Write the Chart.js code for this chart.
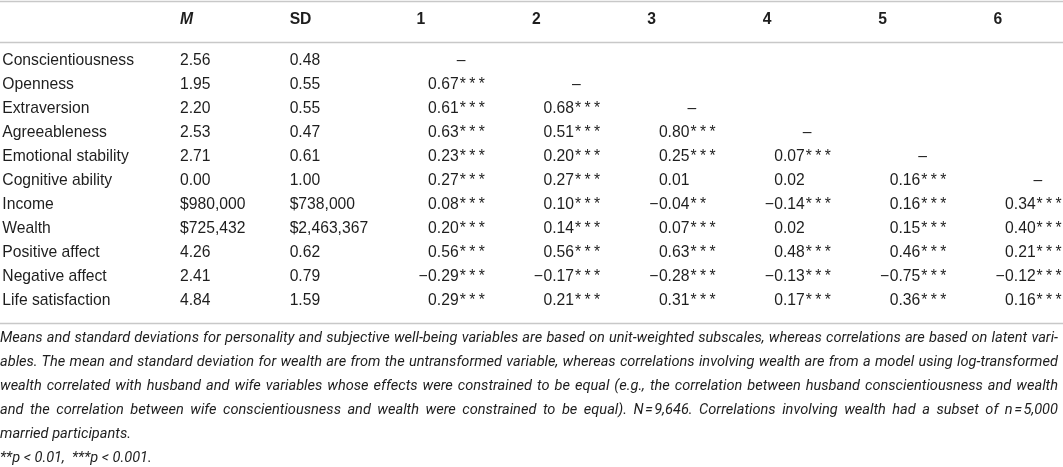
<!DOCTYPE html>
<html>
<head>
<meta charset="utf-8">
<script src="https://cdn.jsdelivr.net/npm/chart.js@4.4.1/dist/chart.umd.min.js"></script>
<style>
  html, body { margin: 0; padding: 0; background: #fff; }
  body { width: 1063px; height: 467px; position: relative; overflow: hidden;
         font-family: "Liberation Sans", Arial, sans-serif; color: #1e1e1e; }
  #table-wrap { position: absolute; left: 0; top: 0; width: 1063px; height: 326px; }
  #notes { position: absolute; left: 0; top: 325px; width: 1058px;
           font-family: Roboto, "Liberation Sans", sans-serif;
           font-style: italic; font-size: 14.5px; line-height: 24px; }
  #notes div { white-space: nowrap; }
  #notes .j { text-align: justify; text-align-last: justify; }
</style>
</head>
<body>
<div id="table-wrap"><canvas id="tbl"></canvas></div>
<div id="notes">
  <div class="j">Means and standard deviations for personality and subjective well-being variables are based on unit-weighted subscales, whereas correlations are based on latent vari-</div>
  <div class="j">ables. The mean and standard deviation for wealth are from the untransformed variable, whereas correlations involving wealth are from a model using log-transformed</div>
  <div class="j">wealth correlated with husband and wife variables whose effects were constrained to be equal (e.g., the correlation between husband conscientiousness and wealth</div>
  <div class="j">and the correlation between wife conscientiousness and wealth were constrained to be equal). N&#8202;=&#8202;9,646. Correlations involving wealth had a subset of n&#8202;=&#8202;5,000</div>
  <div>married participants.</div>
  <div>**p &lt; 0.01, &nbsp;***p &lt; 0.001.</div>
</div>
<script>
// ROWS / COLUMNS
const rowLabels = ['Conscientiousness', 'Openness', 'Extraversion', 'Agreeableness', 'Emotional stability',
  'Cognitive ability', 'Income', 'Wealth', 'Positive affect', 'Negative affect', 'Life satisfaction'];
const columnHeads = ['M', 'SD', '1', '2', '3', '4', '5', '6'];
const moneyRows = ['Income', 'Wealth'];

const meanValues = [2.56, 1.95, 2.20, 2.53, 2.71, 0.00, 980000, 725432, 4.26, 2.41, 4.84];
const sdValues = [0.48, 0.55, 0.55, 0.47, 0.61, 1.00, 738000, 2463367, 0.62, 0.79, 1.59];

// correlations under the diagonal, column k starts at row k
const corr1 = [0.67, 0.61, 0.63, 0.23, 0.27, 0.08, 0.20, 0.56, -0.29, 0.29];
const corr2 = [0.68, 0.51, 0.20, 0.27, 0.10, 0.14, 0.56, -0.17, 0.21];
const corr3 = [0.80, 0.25, 0.01, -0.04, 0.07, 0.63, -0.28, 0.31];
const corr4 = [0.07, 0.02, -0.14, 0.02, 0.48, -0.13, 0.17];
const corr5 = [0.16, 0.16, 0.15, 0.46, -0.75, 0.36];
const corr6 = [0.34, 0.40, 0.21, -0.12, 0.16];

// stars per cell (2 = p < .01, 3 = p < .001)
const stars1 = [3, 3, 3, 3, 3, 3, 3, 3, 3, 3];
const stars2 = [3, 3, 3, 3, 3, 3, 3, 3, 3];
const stars3 = [3, 3, 0, 2, 3, 3, 3, 3];
const stars4 = [3, 0, 3, 0, 3, 3, 3];
const stars5 = [3, 3, 3, 3, 3, 3];
const stars6 = [3, 3, 3, 3, 3];

const corrCols = [corr1, corr2, corr3, corr4, corr5, corr6];
const starCols = [stars1, stars2, stars3, stars4, stars5, stars6];

// LAYOUT (x scale: 1 unit = width of a correlation column, y scale: 1 unit = one row)
const colSlot = [0, 0.95, 2.15, 3.15, 4.15, 5.15, 6.15, 7.15];
const labelSlot = -1.54;
const headShift = -0.1;
const dashShift = 0.285;
const headerRow = -1.71;
const ruleRows = [-2.5, -0.79, 10.92];

const FONT = '"Liberation Sans", Arial, sans-serif';
const NOTE_FONT = 'Roboto, "Liberation Sans", sans-serif';
const SIZE = '15.7px ';
const INK = '#1e1e1e';

function fmt(v) {
  const s = Math.abs(v).toFixed(2);
  return v < 0 ? '\u2212' + s : s;
}
function money(v) {
  return '$' + v.toLocaleString('en-US');
}

// build the cell points
const headerPts = columnHeads.map((h, i) => ({
  x: colSlot[i] + (i > 1 ? headShift : 0), y: headerRow, txt: h, kind: 'head', italic: h === 'M'
}));
const labelPts = rowLabels.map((r, i) => ({ x: labelSlot, y: i, txt: r, kind: 'plain' }));
const meanPts = meanValues.map((v, i) => ({
  x: colSlot[0], y: i, txt: moneyRows.includes(rowLabels[i]) ? money(v) : v.toFixed(2), kind: 'plain'
}));
const sdPts = sdValues.map((v, i) => ({
  x: colSlot[1], y: i, txt: moneyRows.includes(rowLabels[i]) ? money(v) : v.toFixed(2), kind: 'plain'
}));
const corrPts = [];
corrCols.forEach((col, c) => {
  corrPts.push({ x: colSlot[c + 2] + dashShift, y: c, txt: '\u2013', kind: 'dash' });
  col.forEach((v, j) => {
    corrPts.push({ x: colSlot[c + 2], y: c + 1 + j, txt: fmt(v), stars: starCols[c][j], kind: 'corr' });
  });
});

const cellText = {
  id: 'cellText',
  beforeDatasetsDraw(chart) {
    const { ctx, chartArea, scales } = chart;
    ctx.save();
    ctx.strokeStyle = '#c8c8c8';
    ctx.lineWidth = 1.6;
    ruleRows.forEach(r => {
      const py = Math.round(scales.y.getPixelForValue(r)) + 0.5;
      ctx.beginPath();
      ctx.moveTo(chartArea.left, py);
      ctx.lineTo(chartArea.right, py);
      ctx.stroke();
    });
    ctx.restore();
  },
  afterDatasetsDraw(chart) {
    const ctx = chart.ctx;
    ctx.save();
    ctx.fillStyle = INK;
    ctx.textBaseline = 'middle';
    chart.data.datasets.forEach((ds, i) => {
      const meta = chart.getDatasetMeta(i);
      meta.data.forEach((el, j) => {
        const cell = ds.data[j];
        const px = el.x, py = el.y;
        if (cell.kind === 'head') {
          ctx.font = (cell.italic ? 'italic ' : '') + 'bold ' + SIZE + FONT;
          ctx.textAlign = 'left';
          ctx.fillText(cell.txt, px, py);
        } else if (cell.kind === 'dash') {
          ctx.font = SIZE + FONT;
          ctx.textAlign = 'center';
          ctx.fillText(cell.txt, px, py);
        } else if (cell.kind === 'corr') {
          ctx.font = SIZE + FONT;
          ctx.textAlign = 'left';
          let s = cell.txt;
          if (s[0] === '\u2212') {
            // minus hangs left of the digits so decimal points line up
            const w = ctx.measureText('\u2212').width + 0.5;
            ctx.fillText('\u2212', px - w, py);
            s = s.slice(1);
          }
          ctx.fillText(s, px, py);
          const end = px + ctx.measureText(s).width;
          for (let k = 0; k < cell.stars; k++) ctx.fillText('*', end + 1 + k * 9.5, py);
        } else {
          ctx.font = SIZE + FONT;
          ctx.textAlign = 'left';
          ctx.fillText(cell.txt, px, py);
        }
      });
    });
    ctx.restore();
  }
};

const pointStyle = { pointRadius: 0, pointHoverRadius: 0, showLine: false };

new Chart(document.getElementById('tbl'), {
  type: 'scatter',
  data: {
    datasets: [
      { label: 'header', data: headerPts, ...pointStyle },
      { label: 'variables', data: labelPts, ...pointStyle },
      { label: 'M', data: meanPts, ...pointStyle },
      { label: 'SD', data: sdPts, ...pointStyle },
      { label: 'correlations', data: corrPts, ...pointStyle }
    ]
  },
  options: {
    responsive: true,
    maintainAspectRatio: false,
    animation: false,
    events: [],
    layout: { padding: 0 },
    plugins: { legend: { display: false }, tooltip: { enabled: false } },
    scales: {
      x: { type: 'linear', display: false, min: -1.56, max: 7.652 },
      y: { type: 'linear', display: false, reverse: true, min: -2.54, max: 11.04 }
    }
  },
  plugins: [cellText]
});

// NOTES: size the note text so its longest line just fills the table width
function fitNotes() {
  const notes = document.getElementById('notes');
  const m = document.createElement('canvas').getContext('2d');
  m.font = 'italic 20px ' + NOTE_FONT;
  let widest = 0;
  notes.querySelectorAll('.j').forEach(d => {
    widest = Math.max(widest, m.measureText(d.textContent.trim()).width);
  });
  const size = Math.min(15.5, 20 * 1046 / widest);
  notes.style.fontSize = size.toFixed(2) + 'px';
}
fitNotes();
</script>
</body>
</html>
